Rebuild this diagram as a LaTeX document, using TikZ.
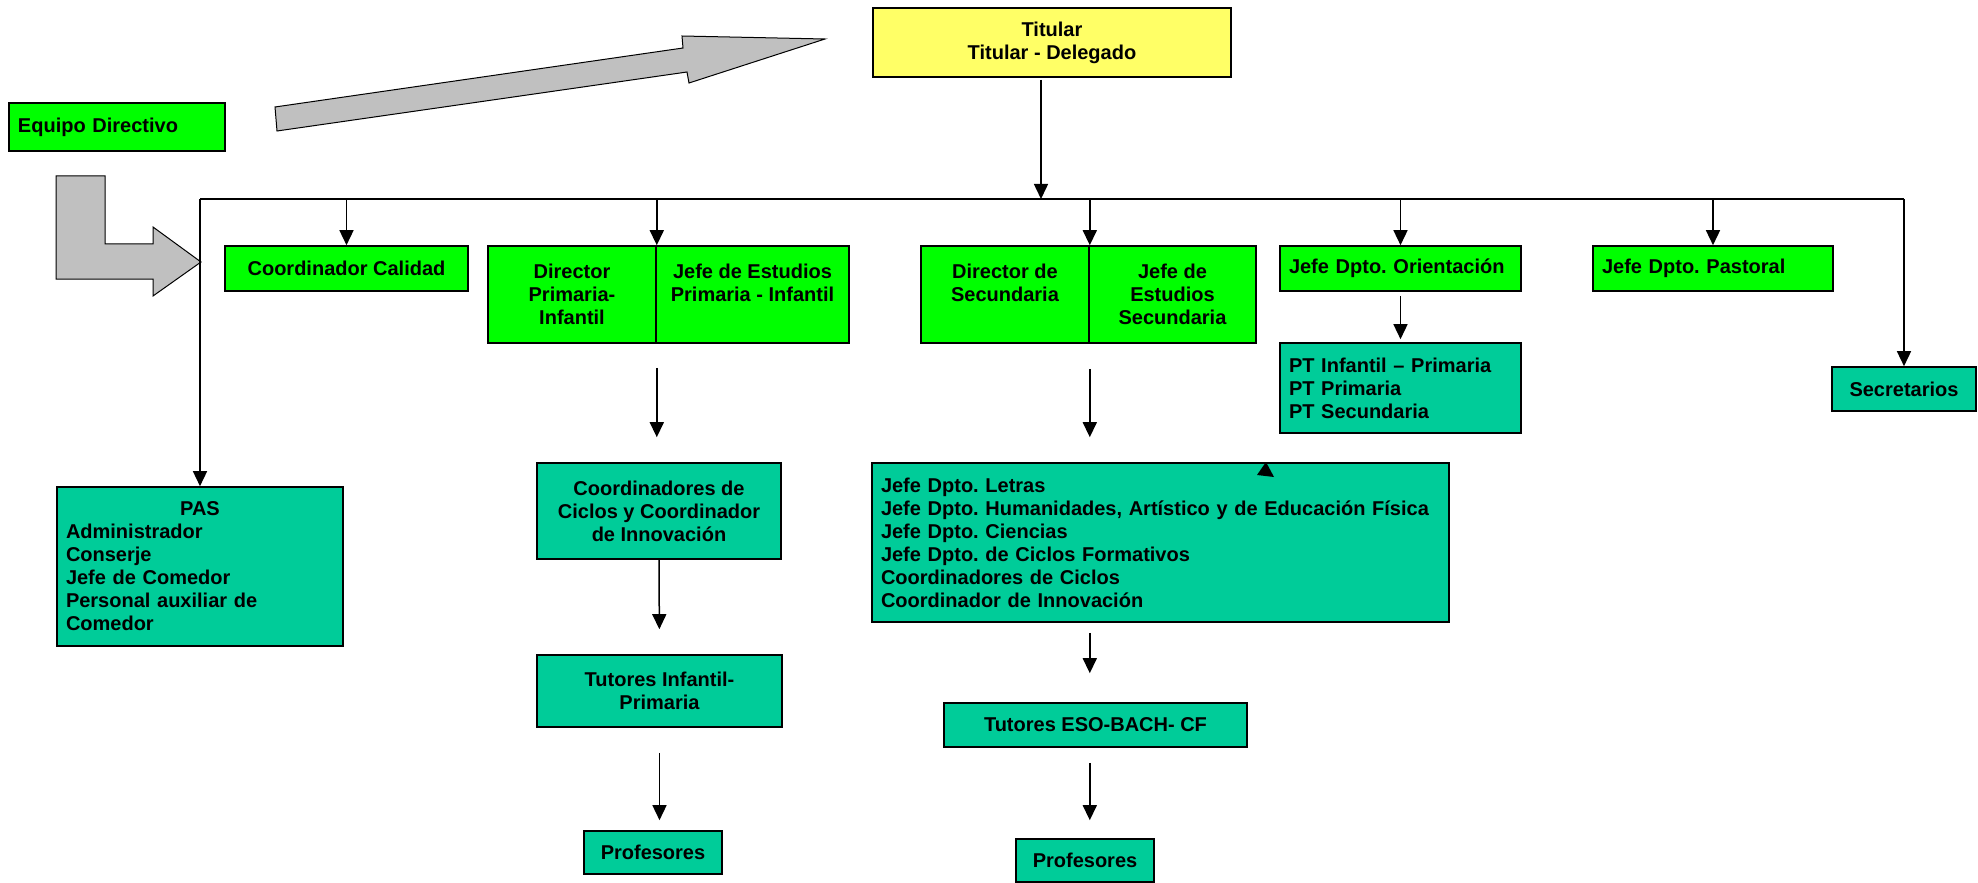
\documentclass[tikz,border=0pt]{standalone}
\usepackage{fontspec}
\setmainfont{Liberation Sans}
\usepackage{tikz}
\usetikzlibrary{arrows.meta}
\definecolor{boxgreen}{HTML}{00FF00}
\definecolor{boxteal}{HTML}{00CC99}
\definecolor{boxyellow}{HTML}{FFFF66}
\definecolor{arrowgray}{HTML}{C0C0C0}
\tikzset{>={Triangle[length=7.5pt,width=7pt]}}
\tikzstyle{link} = [draw, 
->, 
line width=0.75pt]
\frenchspacing

\begin{document}
\begin{tikzpicture}[x=0.5pt, y=-0.5pt,
		box/.style={draw, rectangle, line width=0.8pt, inner sep=0pt, align=center,
			font=\bfseries\fontsize{10}{11.5}\selectfont},
		greenbox/.style={box, fill=boxgreen},
		tealbox/.style={box, fill=boxteal},
		flush/.style={align=left, inner xsep=4.5pt, text width=#1}]
		\useasboundingbox (0,0) rectangle (1978,883);
		%% Big arrows
		\draw [fill=arrowgray, line width=0.5pt] (275,107) -- (683,48) -- (682,36) -- (825,39)
			-- (689,83) -- (687,72) -- (277,131) -- cycle;
		\draw [fill=arrowgray, line width=0.5pt] (56,176) -- (105,176) -- (105,244) -- (153,244)
			-- (153,227) -- (201,262) -- (153,296) -- (153,279) -- (56,279) -- cycle;
		%% Boxes
		\node [box, fill=boxyellow, minimum width=179pt, minimum height=34.5pt] at (1052,42.5) (titular) {Titular\\Titular - Delegado};
		\node [greenbox, flush=99pt, minimum width=108pt, minimum height=24pt] at (117,127) (equipo) {Equipo Directivo};
		\node [greenbox, minimum width=121.5pt, minimum height=22.5pt] at (346.5,268.5) (calidad) {Coordinador Calidad};
		\node [greenbox, minimum width=84pt, minimum height=48.5pt] at (572,294.5) (dirprim) {Director\\Primaria-\\Infantil};
		\node [greenbox, minimum width=96.5pt, minimum height=48.5pt] at (752.5,294.5) (jeprim) {Jefe de Estudios\\Primaria - Infantil\\\mbox{}};
		\node [greenbox, minimum width=84pt, minimum height=48.5pt] at (1005,294.5) (dirsec) {Director de\\Secundaria\\\mbox{}};
		\node [greenbox, minimum width=83.5pt, minimum height=48.5pt] at (1172.5,294.5) (jesec) {Jefe de\\Estudios\\Secundaria};
		\node [greenbox, flush=111.5pt, minimum width=120.5pt, minimum height=22.5pt] at (1400.5,268.5) (orient) {Jefe Dpto. Orientación};
		\node [greenbox, flush=111pt, minimum width=120pt, minimum height=22.5pt] at (1713,268.5) (pastoral) {Jefe Dpto. Pastoral};
		\node [tealbox, flush=111.5pt, minimum width=120.5pt, minimum height=45pt] at (1400.5,388) (pt) {PT Infantil – Primaria\\PT Primaria\\PT Secundaria};
		\node [tealbox, minimum width=72pt, minimum height=22pt] at (1904,389) (secret) {Secretarios};
		\node [tealbox, flush=134pt, minimum width=143pt, minimum height=79.5pt] at (200,566.5) (pas) {\makebox[\linewidth]{PAS}\\Administrador\\Conserje\\Jefe de Comedor\\Personal auxiliar de\\Comedor};
		\node [tealbox, minimum width=122pt, minimum height=48pt] at (659,511) (coordprim) {Coordinadores de\\Ciclos y Coordinador\\de Innovación};
		\node [tealbox, minimum width=122.5pt, minimum height=36pt] at (659.5,691) (tutprim) {Tutores Infantil-\\Primaria};
		\node [tealbox, minimum width=69pt, minimum height=21.5pt] at (653,852.5) (profprim) {Profesores};
		\node [tealbox, flush=279.5pt, minimum width=288.5pt, minimum height=79.5pt] at (1160.5,542.5) (letras) {Jefe Dpto. Letras\\Jefe Dpto. Humanidades, Artístico y de Educación Física\\Jefe Dpto. Ciencias\\Jefe Dpto. de Ciclos Formativos\\Coordinadores de Ciclos\\Coordinador de Innovación};
		\node [tealbox, minimum width=151.5pt, minimum height=22pt] at (1095.5,725) (tuteso) {Tutores ESO-BACH- CF};
		\node [tealbox, minimum width=69pt, minimum height=21.5pt] at (1085,860.5) (profsec) {Profesores};
		%% Flows
		\coordinate (busL) at (200,199);
		\coordinate (busR) at (1904,199);
		\coordinate (busT) at (1041,199);
		\path [link, shorten <=1pt] (titular.south -| busT) to (busT);
		\draw [line width=0.75pt] (busL) -- (busR);
		\path [link] (busL) to (pas.north);
		\path [link] (busR) to (secret.north);
		\path [link] (calidad.north |- busL) to (calidad.north);
		\path [link] (dirprim.north east |- busL) to (dirprim.north east);
		\path [link] (dirsec.north east |- busL) to (dirsec.north east);
		\path [link] (orient.north |- busL) to (orient.north);
		\path [link] (pastoral.north |- busL) to (pastoral.north);
		\path [link, shorten <=2pt, shorten >=1.5pt] (orient.south) to (pt.north);
		\path [link, shorten <=12pt, shorten >=12.5pt] (dirprim.south east) to (dirprim.south east |- coordprim.north);
		\path [link, shorten >=12.5pt] (coordprim.south) to (tutprim.north);
		\path [link, shorten <=12.5pt, shorten >=5pt] (tutprim.south) to (tutprim.south |- profprim.north);
		\path [link, shorten <=12.5pt, shorten >=12.5pt] (dirsec.south east) to (dirsec.south east |- letras.north);
		\path [link, shorten <=5pt, shorten >=14.5pt] (letras.south -| dirsec.south east) to (tuteso.north -| dirsec.south east);
		\path [link, shorten <=7.5pt, shorten >=9pt] (tuteso.south -| dirsec.south east) to (profsec.north -| dirsec.south east);
		%% Loose tip on the top edge
		\fill (1266,462) -- (1257,475) -- (1274,477) -- cycle;
	\end{tikzpicture}
\end{document}
